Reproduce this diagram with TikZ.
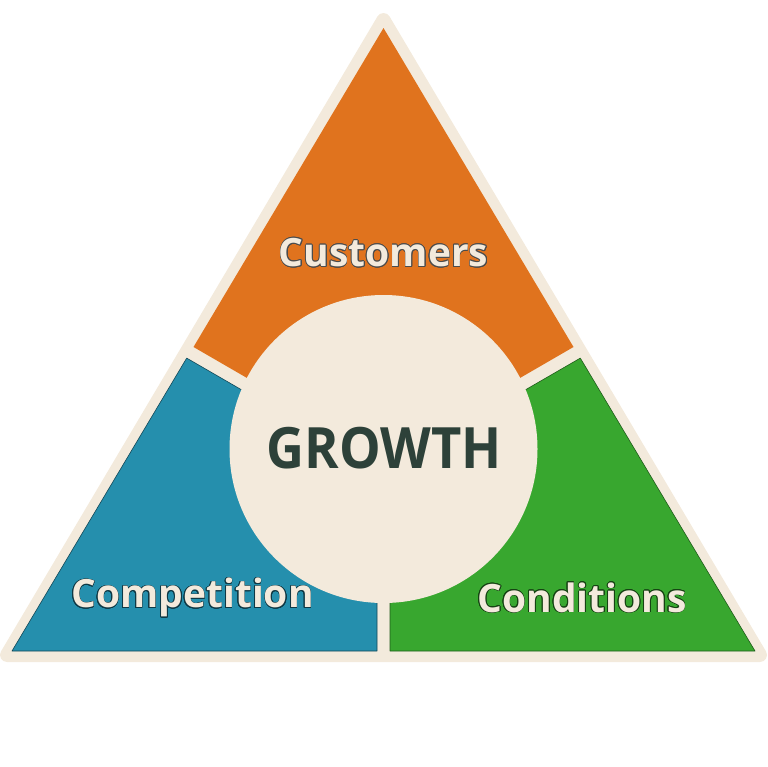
\documentclass[tikz,border=0pt]{standalone}
\usepackage{fontspec}
\setmainfont{Open Sans}
\usepackage{contour}
\contourlength{0.7pt}

\definecolor{cream}{HTML}{F3EADC}
\definecolor{custorange}{HTML}{E0731E}
\definecolor{compblue}{HTML}{258FAD}
\definecolor{condgreen}{HTML}{38A72F}
\definecolor{growthgreen}{HTML}{2D4139}

\begin{document}
\begin{tikzpicture}[x=1pt, y=-1pt,
    label/.style={font=\bfseries\fontsize{39}{39}\selectfont, text=cream, inner sep=0pt},
    part/.style={line width=0.6pt, line join=round}]
    \useasboundingbox (0,0) rectangle (768,766);

    % Outer cream frame
    \filldraw[cream, line width=14pt, line join=round] (383.5,20) -- (7,655) -- (760,655) -- cycle;

    % Three parts (gaps of 13pt between them)
    \fill[custorange] (193.5,347) -- (383.5,28) -- (573.5,347) -- (383.5,457) -- cycle;
    \filldraw[part, fill=compblue, draw=compblue!50!black] (186.7,358.1) -- (12,651) -- (377,651) -- (377,468.1) -- cycle;
    \filldraw[part, fill=condgreen, draw=condgreen!55!black] (580.3,358.1) -- (755,651) -- (390,651) -- (390,468.1) -- cycle;

    % Centre circle
    \node[circle, fill=cream, minimum size=308pt, inner sep=0pt] (hub) at (383.5,449) {};
    \node[font=\bfseries\fontsize{57}{57}\selectfont, text=growthgreen, inner sep=0pt] (growth) at (384,448) {\scalebox{0.92}[1]{GROWTH}};

    % Labels
    \node[label] (customers) at (383.5,253) {\contour{black!70}{Customers}};
    \node[label] (competition) at (192.5,598) {\contour{compblue!40!black}{Competition}};
    \node[label] (conditions) at (582,598) {\contour{condgreen!40!black}{Conditions}};
\end{tikzpicture}
\end{document}
